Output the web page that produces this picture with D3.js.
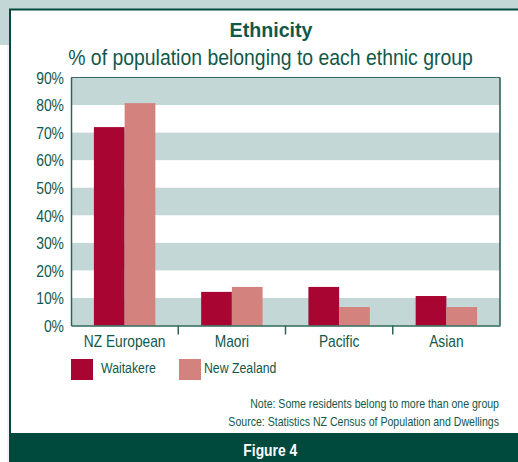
<!DOCTYPE html>
<html>
<head>
<meta charset="utf-8">
<script src="https://cdn.jsdelivr.net/npm/d3@7"></script>
<style>
  html, body { margin: 0; padding: 0; background: #fff; }
  svg { display: block; }
  text { font-family: "Liberation Sans", Arial, sans-serif; }
</style>
</head>
<body>
<svg id="chart" width="518" height="462"></svg>
<script>
const categories = ["NZ European", "Maori", "Pacific", "Asian"];
const seriesNames = ["Waitakere", "New Zealand"];
const waitakere = [72, 12.2, 14, 10.7];
const newZealand = [80.7, 14, 6.7, 6.7];
const yTicks = [0, 10, 20, 30, 40, 50, 60, 70, 80, 90];
const titleText = "Ethnicity";
const subtitleText = "% of population belonging to each ethnic group";
const noteText = "Note: Some residents belong to more than one group";
const sourceText = "Source: Statistics NZ Census of Population and Dwellings";
const figureText = "Figure 4";

(function () {
const colors = ["#a80533", "#d4827e"];
const textColor = "#12584a";
const darkGreen = "#00493d";
const stripe = "#c3d8d6";

const svg = d3.select("#chart");
const W = 518, H = 462;
svg.append("rect").attr("width", W).attr("height", H).attr("fill", "#fff");

// decorative frame
svg.append("rect").attr("x", 0).attr("y", 0).attr("width", W).attr("height", 9).attr("fill", stripe);
svg.append("rect").attr("x", 0).attr("y", 0).attr("width", 9).attr("height", 45).attr("fill", stripe);
svg.append("line").attr("x1", 8).attr("x2", 8).attr("y1", 45).attr("y2", H).attr("stroke", "#e4e8e8").attr("stroke-width", 1);
svg.append("line").attr("x1", 9).attr("x2", W).attr("y1", 9.5).attr("y2", 9.5).attr("stroke", darkGreen).attr("stroke-width", 2);
svg.append("line").attr("x1", 10).attr("x2", 10).attr("y1", 9).attr("y2", H).attr("stroke", darkGreen).attr("stroke-width", 2);
svg.append("rect").attr("x", 9).attr("y", 433).attr("width", W - 9).attr("height", H - 433).attr("fill", darkGreen);

// horizontal squeeze via transform (k factor or target width)
function squeeze(sel, k, target) {
  sel.each(function() {
    const el = d3.select(this);
    const len = this.getComputedTextLength();
    const f = target ? target / len : k;
    const x = +(el.attr("x") || 0), yv = +(el.attr("y") || 0);
    el.attr("x", 0).attr("y", 0)
      .attr("transform", `translate(${x},${yv}) scale(${f},1)`);
  });
  return sel;
}

// titles
const t1 = svg.append("text").attr("x", 271).attr("y", 37).attr("text-anchor", "middle")
  .attr("font-size", 19.5).attr("font-weight", "bold").attr("fill", textColor).text(titleText);
squeeze(t1, null, 83);
const t2 = svg.append("text").attr("x", 270.5).attr("y", 65).attr("text-anchor", "middle")
  .attr("font-size", 23).attr("fill", textColor).text(subtitleText);
squeeze(t2, null, 405);

// plot
const pLeft = 71, pRight = 500, pTop = 77.5, pBottom = 325.5;
const y = d3.scaleLinear().domain([0, 90]).range([pBottom, pTop]);
const x0 = d3.scaleBand().domain(categories).range([pLeft, pRight]).paddingInner(0.427).paddingOuter(0.2135);
const x1 = d3.scaleBand().domain(seriesNames).range([0, x0.bandwidth()]);
const full = d3.scaleBand().domain(categories).range([pLeft, pRight]);

// stripes
const bands = yTicks.slice(0, -1).filter(v => v % 20 === 0);
svg.append("g").selectAll("rect").data(bands).join("rect")
  .attr("x", pLeft).attr("width", pRight - pLeft)
  .attr("y", d => y(d + 10)).attr("height", d => y(d) - y(d + 10))
  .attr("fill", stripe);

// bars
const data = categories.map((c, i) => ({ cat: c, values: [waitakere[i], newZealand[i]] }));
const groups = svg.append("g").selectAll("g").data(data).join("g")
  .attr("transform", d => `translate(${x0(d.cat)},0)`);
groups.selectAll("rect").data(d => d.values.map((v, j) => ({ s: seriesNames[j], v, j }))).join("rect")
  .attr("x", d => x1(d.s)).attr("width", x1.bandwidth())
  .attr("y", d => y(d.v)).attr("height", d => y(0) - y(d.v))
  .attr("fill", d => colors[d.j]);

// plot frame
svg.append("line").attr("x1", pLeft).attr("x2", pRight).attr("y1", pTop).attr("y2", pTop).attr("stroke", "#3b6a60").attr("stroke-width", 1);
svg.append("line").attr("x1", pRight).attr("x2", pRight).attr("y1", pTop).attr("y2", pBottom).attr("stroke", "#1f5e50").attr("stroke-width", 1.5);

// y axis
const yAxis = d3.axisLeft(y).tickValues(yTicks).tickSize(0).tickPadding(7).tickFormat(d => d + "%");
const gy = svg.append("g").attr("transform", `translate(${pLeft},0)`).call(yAxis);
gy.select(".domain").attr("stroke", "#2b6657").attr("stroke-width", 1.5);
gy.selectAll("text").attr("font-size", 16).attr("fill", textColor).attr("font-family", "Liberation Sans, Arial, sans-serif").attr("dy", "0.36em");
squeeze(gy.selectAll("text"), 0.87);

// x axis
const xAxis = d3.axisBottom(full).tickSize(0).tickPadding(0).tickFormat("");
const gx = svg.append("g").attr("transform", `translate(0,${pBottom})`).call(xAxis);
gx.select(".domain").attr("stroke", "#2b6657").attr("stroke-width", 1.5);
gx.selectAll(".tick").remove();
const boundaries = categories.slice(1).map(c => full(c));
gx.selectAll("line.sep").data(boundaries).join("line").attr("class", "sep")
  .attr("x1", d => d).attr("x2", d => d).attr("y1", 0).attr("y2", 9)
  .attr("stroke", "#2b6657").attr("stroke-width", 1.5);
const catLabels = svg.append("g").selectAll("text").data(categories).join("text")
  .attr("x", d => full(d) + full.bandwidth() / 2).attr("y", 346.7)
  .attr("text-anchor", "middle").attr("font-size", 16).attr("fill", textColor).text(d => d);
squeeze(catLabels, 0.86);

// legend
const legendX = [71, 179];
const lg = svg.append("g").selectAll("g").data(seriesNames).join("g")
  .attr("transform", (d, i) => `translate(${legendX[i]},359)`);
lg.append("rect").attr("width", 22).attr("height", 21).attr("fill", (d, i) => colors[i]);
const lt = lg.append("text").attr("x", (d, i) => i === 0 ? 30 : 25).attr("y", 14.3)
  .attr("font-size", 15).attr("fill", textColor).text(d => d);
squeeze(lt, 0.82);

// notes
const n1 = svg.append("text").attr("x", 499).attr("y", 408).attr("text-anchor", "end")
  .attr("font-size", 12.5).attr("fill", textColor).text(noteText);
squeeze(n1, null, 249);
const n2 = svg.append("text").attr("x", 499).attr("y", 425.7).attr("text-anchor", "end")
  .attr("font-size", 12.5).attr("fill", textColor).text(sourceText);
squeeze(n2, null, 271);

// footer label
const ft = svg.append("text").attr("x", 243.3).attr("y", 456).attr("font-size", 16.5).attr("font-weight", "bold")
  .attr("fill", "#fff").text(figureText);
squeeze(ft, null, 54);
})();
</script>
</body>
</html>
